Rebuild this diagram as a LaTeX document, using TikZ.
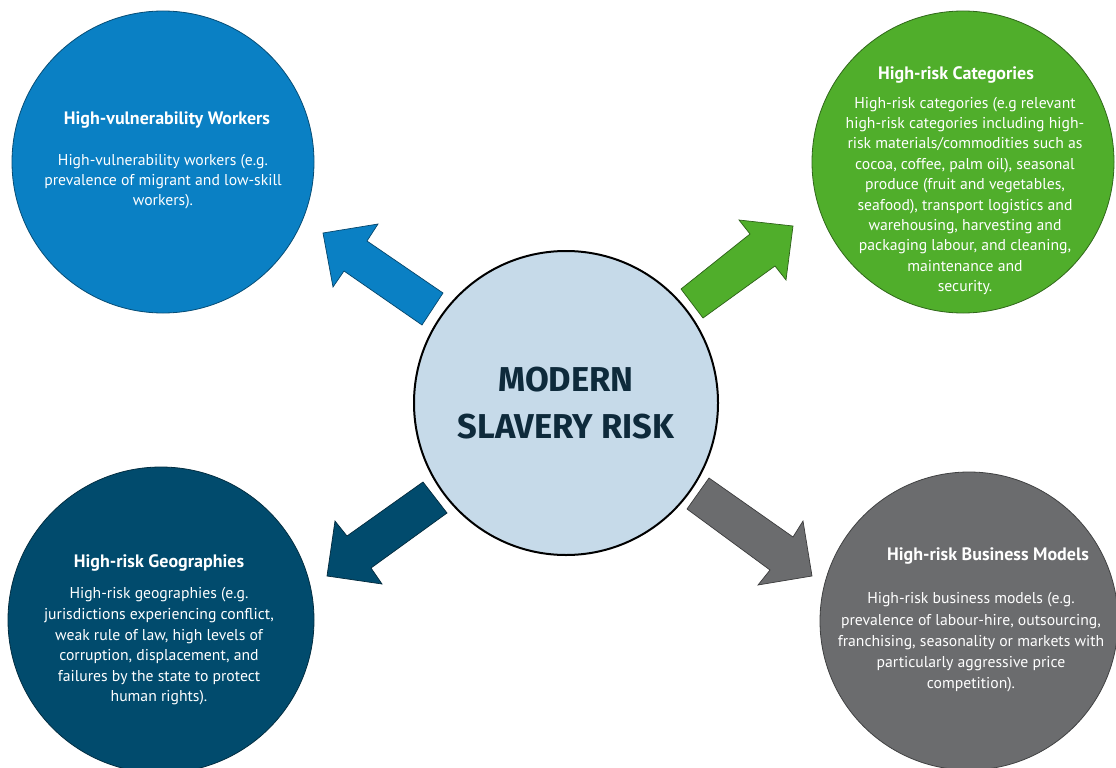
\documentclass[tikz,border=0pt]{standalone}
\usepackage{fontspec}
\setmainfont{PT Sans}
\newfontfamily\hubfont{Fira Sans}
\definecolor{workersblue}{HTML}{0A80C4}
\definecolor{categorygreen}{HTML}{50AE2B}
\definecolor{geonavy}{HTML}{014B6D}
\definecolor{modelgray}{HTML}{6B6C6E}
\definecolor{hubfill}{HTML}{C6DAE9}
\definecolor{hubtext}{HTML}{0E2A3B}
\begin{document}
\begin{tikzpicture}[x=1pt,y=-1pt,
  topic/.style={circle, draw=#1!60!black, line width=0.8pt, fill=#1, inner sep=0pt, minimum size=302pt},
  hub/.style={circle, draw=black, line width=2pt, fill=hubfill, inner sep=0pt, minimum size=304pt,
    text=hubtext, font=\hubfont\bfseries\fontsize{34.5}{47}\selectfont, align=center},
  heading/.style={text=white, font=\bfseries\fontsize{18}{20}\selectfont, inner sep=0pt},
  bodytext/.style={text=white, align=center, inner sep=0pt, font=\fontsize{15.7}{#1}\selectfont},
  blockarrow/.style={fill=#1, draw=#1!55!black, line width=0.7pt, line join=miter}
]
\useasboundingbox (0,0) rectangle (1116,768);

% topic circles
\node[topic=workersblue]   (workers)    at (163,162) {};
\node[topic=categorygreen] (categories) at (963,162) {};
\node[topic=geonavy, minimum size=306pt] (geo) at (161,620) {};
\node[topic=modelgray, minimum size=298pt] (models) at (969,621) {};

% centre circle
\node[hub] (risk) at (566,403) {MODERN\\SLAVERY RISK};

% block arrows from the centre towards each topic
\draw[blockarrow=workersblue]
  (443,293) -- (367,241) -- (378,224) -- (323,233) -- (333,287) -- (344,271) -- (422,325) -- cycle;
\draw[blockarrow=categorygreen]
  (681,289) -- (750,234) -- (739,220) -- (793,226) -- (786,280) -- (775,266) -- (703,318) -- cycle;
\draw[blockarrow=geonavy]
  (423,482) -- (347,536) -- (335,521) -- (327,576) -- (382,584) -- (371,568) -- (447,513) -- cycle;
\draw[blockarrow=modelgray]
  (709,478) -- (793,537) -- (803,521) -- (812,576) -- (758,585) -- (770,570) -- (687,509) -- cycle;

% texts of the topics
\node[heading] (workersTitle) at (167,120) {High-vulnerability Workers};
\node[bodytext=20] (workersBody) at (163,182)
  {High-vulnerability workers (e.g.\\prevalence of migrant and low-skill\\workers).};

\node[heading] (categoriesTitle) at (956,75) {High-risk Categories};
\node[bodytext=20.4] (categoriesBody) at (965,196)
  {High-risk categories (e.g relevant\\high-risk categories including high-\\risk materials/commodities such as\\cocoa, coffee, palm oil), seasonal\\produce (fruit and vegetables,\\seafood), transport logistics and\\warehousing, harvesting and\\packaging labour, and cleaning,\\maintenance and\\security.};

\node[heading] (geoTitle) at (159,563) {High-risk Geographies};
\node[bodytext=20.6] (geoBody) at (159,646.5)
  {High-risk geographies (e.g.\\jurisdictions experiencing conflict,\\weak rule of law, high levels of\\corruption, displacement, and\\failures by the state to protect\\human rights).};

\node[heading] (modelsTitle) at (988,556) {High-risk Business Models};
\node[bodytext=21.3] (modelsBody) at (971,642.5)
  {High-risk business models (e.g.\\prevalence of labour-hire, outsourcing,\\franchising, seasonality or markets with\\particularly aggressive price\\competition).};
\end{tikzpicture}
\end{document}
